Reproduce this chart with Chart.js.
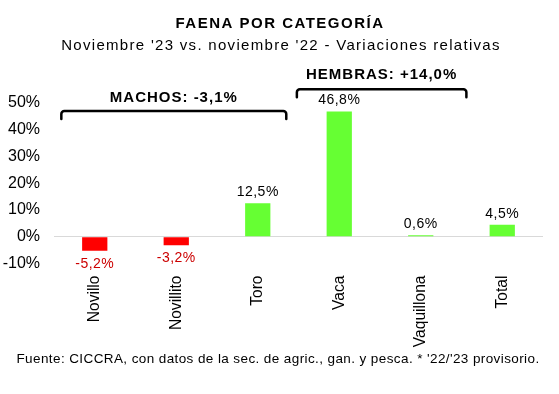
<!DOCTYPE html>
<html lang="es">
<head>
    <meta charset="UTF-8">
    <title>Faena por categoría</title>
    <style>
        body {
            margin: 0;
            background: #fff;
        }
        #wrap {
            width: 559px;
            height: 394px;
        }
    </style>
    <script src="https://cdn.jsdelivr.net/npm/chart.js"></script>
</head>
<body>
    <div id="wrap">
        <canvas id="faenaChart" width="559" height="394"></canvas>
    </div>

    <script>
        // Datos
        const categorias = ['Novillo', 'Novillito', 'Toro', 'Vaca', 'Vaquillona', 'Total'];
        const variaciones = [-5.2, -3.2, 12.5, 46.8, 0.6, 4.5];
        const etiquetas = ['-5,2%', '-3,2%', '12,5%', '46,8%', '0,6%', '4,5%'];
        const grupos = ['MACHOS: -3,1%', 'HEMBRAS: +14,0%'];

        const titulo = 'FAENA POR CATEGORÍA';
        const subtitulo = "Noviembre '23 vs. noviembre '22 - Variaciones relativas";
        const fuente = "Fuente: CICCRA, con datos de la sec. de agric., gan. y pesca. * '22/'23 provisorio.";

        const FONT = "'Liberation Sans', Arial, sans-serif";

        // Textos, llaves y etiquetas dibujados sobre el canvas
        const extras = {
            id: 'extras',
            afterDraw(chart) {
                const ctx = chart.ctx;
                const x = chart.scales.x;
                const y = chart.scales.y;
                const w = x.getPixelForValue(1) - x.getPixelForValue(0);

                ctx.save();
                ctx.fillStyle = '#000';
                ctx.textAlign = 'center';
                ctx.textBaseline = 'middle';

                ctx.font = 'bold 15px ' + FONT;
                ctx.letterSpacing = '1.5px';
                ctx.fillText(titulo, 280, 24);

                ctx.font = '15px ' + FONT;
                ctx.letterSpacing = '1.3px';
                ctx.fillText(subtitulo, 281, 46);

                ctx.font = '13.5px ' + FONT;
                ctx.letterSpacing = '0.4px';
                ctx.fillText(fuente, 278, 359);

                // etiquetas de valores
                ctx.font = '14px ' + FONT;
                ctx.letterSpacing = '0.5px';
                const meta = chart.getDatasetMeta(0);
                meta.data.forEach((bar, i) => {
                    const v = variaciones[i];
                    if (v < 0) {
                        ctx.fillStyle = '#cc0000';
                        ctx.fillText(etiquetas[i], bar.x, bar.y + 13);
                    } else {
                        ctx.fillStyle = '#000';
                        ctx.fillText(etiquetas[i], bar.x, bar.y - 11);
                    }
                });

                // llaves de grupos
                function llave(x1, x2, yy, texto, dy) {
                    const r = 3, h = 8;
                    ctx.strokeStyle = '#000';
                    ctx.lineWidth = 2.5;
                    ctx.lineJoin = 'round';
                    ctx.lineCap = 'round';
                    ctx.beginPath();
                    ctx.moveTo(x1, yy + h);
                    ctx.arcTo(x1, yy, x1 + r, yy, r);
                    ctx.lineTo(x2 - r, yy);
                    ctx.arcTo(x2, yy, x2, yy + r, r);
                    ctx.lineTo(x2, yy + h);
                    ctx.stroke();

                    ctx.fillStyle = '#000';
                    ctx.font = 'bold 15px ' + FONT;
                    ctx.letterSpacing = '1px';
                    ctx.fillText(texto, (x1 + x2) / 2, yy - dy);
                }
                llave(x.getPixelForValue(0) - 0.41 * w, x.getPixelForValue(2) + 0.35 * w,
                    y.getPixelForValue(47), grupos[0], 13);
                llave(x.getPixelForValue(3) - 0.52 * w, x.getPixelForValue(4) + 0.56 * w,
                    y.getPixelForValue(55.1), grupos[1], 14);

                ctx.restore();
            }
        };

        new Chart(document.getElementById('faenaChart'), {
            type: 'bar',
            data: {
                labels: categorias,
                datasets: [{
                    data: variaciones,
                    backgroundColor: variaciones.map(v => v < 0 ? '#ff0000' : '#66ff33'),
                    borderWidth: 0,
                    categoryPercentage: 1,
                    barPercentage: 0.31
                }]
            },
            options: {
                responsive: false,
                animation: false,
                layout: {
                    padding: { top: 103, bottom: 40, left: 3, right: 16 }
                },
                plugins: {
                    legend: { display: false },
                    tooltip: { enabled: false }
                },
                scales: {
                    x: {
                        grid: { display: false },
                        border: { display: false },
                        afterFit: s => { s.height = 90.5; },
                        ticks: {
                            color: '#000',
                            font: { family: FONT, size: 15.6 },
                            minRotation: 90,
                            maxRotation: 90,
                            padding: 4
                        }
                    },
                    y: {
                        min: -10,
                        max: 50,
                        border: { display: false },
                        afterFit: s => { s.width = 51; },
                        grid: {
                            drawTicks: false,
                            color: c => c.tick.value === 0 ? '#d9d9d9' : 'transparent'
                        },
                        ticks: {
                            stepSize: 10,
                            color: '#000',
                            padding: 14,
                            font: { family: FONT, size: 16 },
                            callback: v => v + '%'
                        }
                    }
                }
            },
            plugins: [extras]
        });
    </script>
</body>
</html>
